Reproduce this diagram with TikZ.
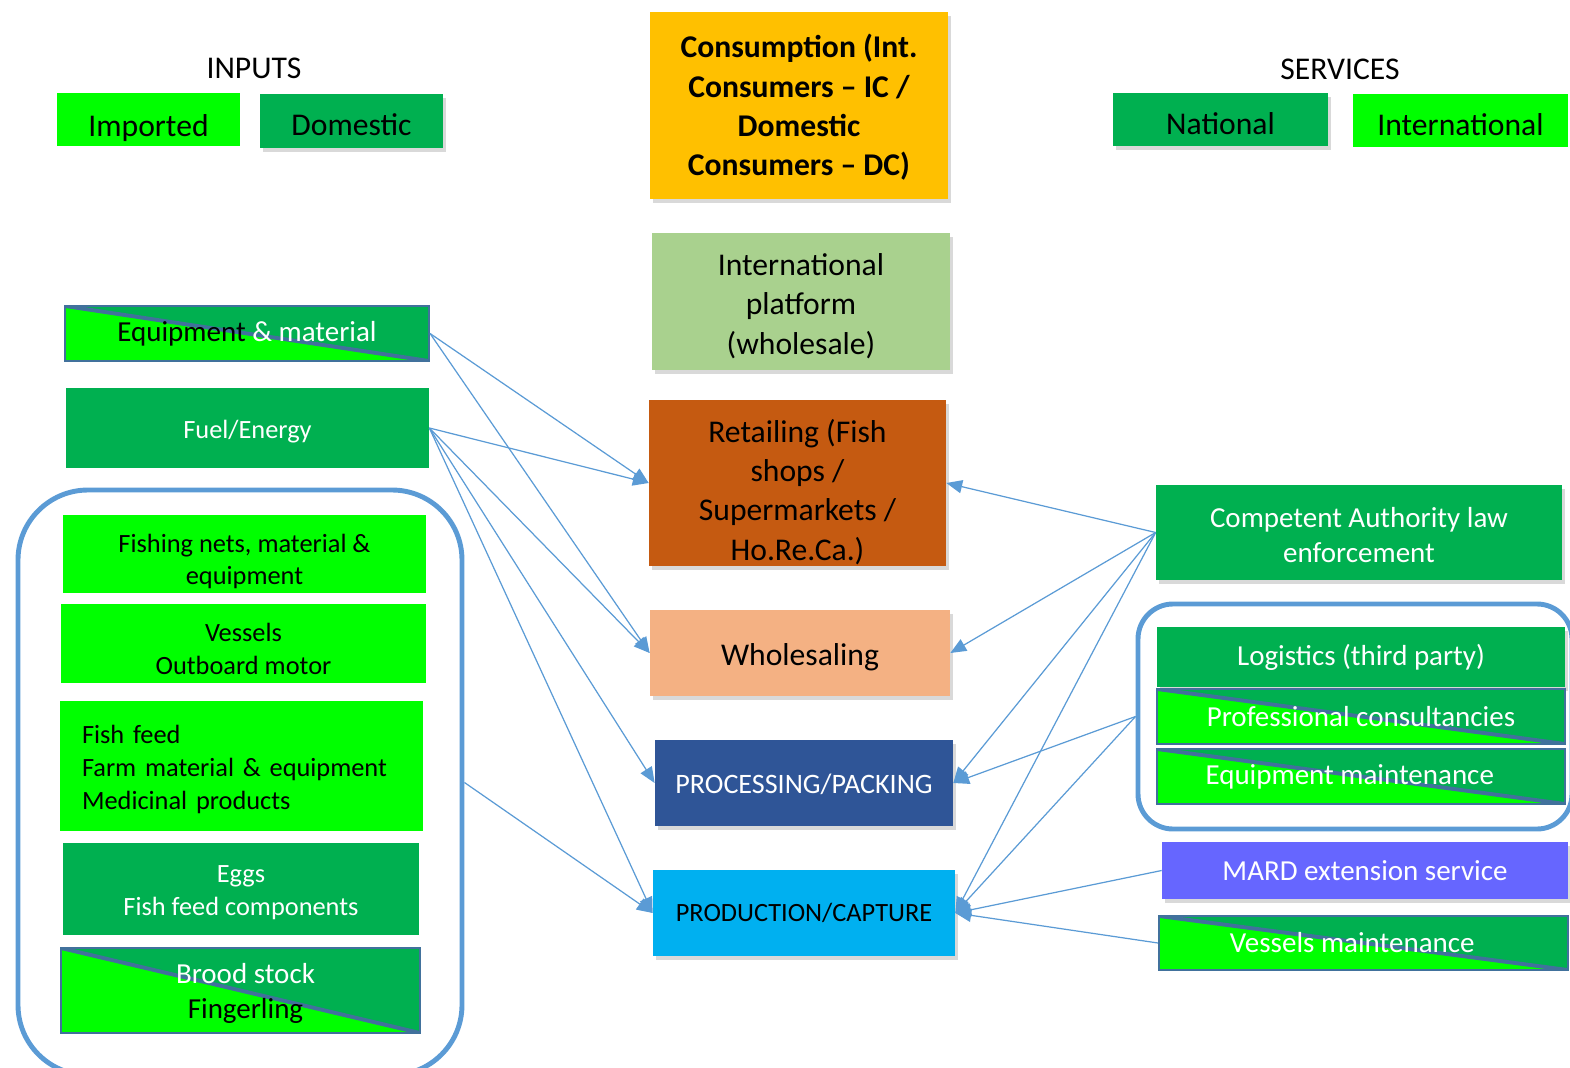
\documentclass[tikz,border=0pt]{standalone}
\usepackage{fontspec}
\setmainfont{Carlito}
\usepackage{tikz}
\usetikzlibrary{arrows.meta,shadows,positioning}
\usepackage{xcolor}
\definecolor{InGreen}{RGB}{0,255,0}
\definecolor{DomGreen}{RGB}{0,176,80}
\definecolor{ConsAmber}{RGB}{255,192,0}
\definecolor{PlatGreen}{RGB}{169,209,142}
\definecolor{RetailRust}{RGB}{197,90,17}
\definecolor{WholePeach}{RGB}{244,177,131}
\definecolor{ProcNavy}{RGB}{47,85,151}
\definecolor{ProdCyan}{RGB}{0,176,240}
\definecolor{MardBlue}{RGB}{102,102,255}
\definecolor{LinkBlue}{RGB}{91,155,213}
\definecolor{EdgeBlue}{RGB}{65,113,156}
\newcommand{\fsL}{\fontsize{18}{22.3}\selectfont}
\newcommand{\fsM}{\fontsize{16.5}{20}\selectfont}
\newcommand{\fsS}{\fontsize{15}{18.6}\selectfont}

\begin{document}
\begin{tikzpicture}[
  box/.style 2 args={inner sep=0pt,minimum width=#1,text width=#1,align=flush center,minimum height=#2},
  sink/.style={execute at begin node={\rule{0pt}{\dimexpr\fontcharht\font`(+#1*2\relax}}},
  shade/.style={drop shadow={shadow xshift=1.5pt,shadow yshift=-2pt,opacity=0.3}},
  splitbox/.style={fill=DomGreen,draw=EdgeBlue,line width=1.2pt,text=white,
    path picture={
      \fill[InGreen] (path picture bounding box.north west) -- (path picture bounding box.south east)
        -- (path picture bounding box.south west) -- cycle;
      \draw[EdgeBlue,line width=2.2pt] (path picture bounding box.north west) -- (path picture bounding box.south east);}},
  frame/.style={draw=LinkBlue,line width=2.8pt},
  link/.style={-{Triangle[length=9pt,width=7.5pt]},LinkBlue,line width=0.7pt},
]
\useasboundingbox (0,0) rectangle (31.4,-21.36);

% legends
\node[font=\fsL] (inputs) at (5.08,-1.36) {INPUTS};
\node[box={3.66cm}{1.06cm},sink=4.5pt,fill=InGreen,font=\fsL] (imported) at (2.97,-2.39) {Imported};
\node[box={3.66cm}{1.08cm},sink=1.7pt,shade,fill=DomGreen,font=\fsL] (domestic) at (7.03,-2.42) {Domestic};
\node[font=\fsL] (services) at (26.8,-1.38) {SERVICES};
\node[box={4.30cm}{1.06cm},sink=2.3pt,shade,fill=DomGreen,font=\fsL] (national) at (24.41,-2.39) {National};
\node[box={4.30cm}{1.06cm},sink=2.3pt,fill=InGreen,font=\fsL] (intl) at (29.21,-2.41) {International};

% chain
\node[box={5.96cm}{3.74cm},sink=1.1pt,shade,fill=ConsAmber,font=\fsL\bfseries] (consum) at (15.98,-2.11)
  {Consumption (Int.\\Consumers -- IC /\\Domestic\\Consumers -- DC)};
\node[box={5.96cm}{2.74cm},sink=2.3pt,shade,fill=PlatGreen,font=\fsL] (platform) at (16.02,-6.03)
  {International\\platform\\(wholesale)};
\node[box={5.94cm}{3.32cm},sink=5.1pt,shade,fill=RetailRust,font=\fsL] (retail) at (15.95,-9.66)
  {Retailing (Fish\\shops /\\Supermarkets /\\Ho.Re.Ca.)};
\node[box={6.00cm}{1.72cm},sink=2.3pt,shade,fill=WholePeach,font=\fsL] (whole) at (16.00,-13.06) {Wholesaling};
\node[box={5.96cm}{1.72cm},sink=0.7pt,shade,fill=ProcNavy,text=white,font=\fontsize{16}{19}\selectfont] (proc) at (16.08,-15.66)
  {PROCESSING/PACKING};
\node[box={6.04cm}{1.72cm},shade,fill=ProdCyan,font=\fsS] (prod) at (16.08,-18.26) {PRODUCTION/CAPTURE};

% inputs
\node[box={7.28cm}{1.10cm},splitbox,font=\fsM] (equip) at (4.94,-6.67)
  {\textcolor{black}{Equipment} \& material};
\node[box={7.26cm}{1.60cm},sink=1.7pt,fill=DomGreen,text=white,font=\fsS] (fuel) at (4.95,-8.56) {Fuel/Energy};
\node[box={8.88cm}{11.70cm},frame,rounded corners=1.4cm] (inbox) at (4.80,-15.65) {};
\node[box={7.26cm}{1.56cm},sink=4pt,fill=InGreen,font=\fsS] (nets) at (4.89,-11.08)
  {Fishing nets, material \&\\equipment};
\node[box={7.30cm}{1.58cm},sink=2.8pt,fill=InGreen,font=\fsS] (vessels) at (4.87,-12.87)
  {Vessels\\Outboard motor};
\node[box={7.26cm}{2.60cm},sink=1.7pt,fill=InGreen,text width=6.38cm,align=left,font=\fsS] (feed) at (4.83,-15.32)
  {Fish feed\\Farm material \& equipment\\Medicinal products};
\node[box={7.12cm}{1.84cm},sink=1.3pt,fill=DomGreen,text=white,font=\fsS] (eggs) at (4.82,-17.78)
  {Eggs\\Fish feed components};
\node[box={7.18cm}{1.70cm},sink=1.4pt,splitbox,font=\fsM] (brood) at (4.81,-19.81)
  {\hspace*{0.2cm}Brood stock\\\hspace*{0.2cm}\textcolor{black}{Fingerling}};

% services
\node[box={8.12cm}{1.90cm},sink=1.1pt,shade,fill=DomGreen,text=white,font=\fsM] (authority) at (27.18,-10.65)
  {Competent Authority law\\enforcement};
\node[box={8.68cm}{4.50cm},frame,rounded corners=0.7cm] (svbox) at (27.10,-14.33) {};
\node[box={8.16cm}{1.20cm},shade,fill=DomGreen,text=white,font=\fsM] (logist) at (27.22,-13.14)
  {Logistics (third party)};
\node[box={8.16cm}{1.10cm},splitbox,font=\fsM] (consult) at (27.22,-14.33) {Professional consultancies};
\node[box={8.16cm}{1.10cm},splitbox,font=\fsM] (eqmaint) at (27.22,-15.53) {Equipment maintenance\hspace*{0.45cm}};
\node[box={8.12cm}{1.14cm},shade,fill=MardBlue,text=white,font=\fsM] (mard) at (27.30,-17.41)
  {MARD extension service};
\node[box={8.18cm}{1.08cm},splitbox,font=\fsM] (vsmaint) at (27.27,-18.86) {Vessels maintenance\hspace*{0.45cm}};

\draw[link] (equip.east) -- (retail.west);
\draw[link] (equip.east) -- (whole.west);
\draw[link] (fuel.east) -- (retail.west);
\draw[link] (fuel.east) -- (whole.west);
\draw[link] (fuel.east) -- (proc.west);
\draw[link] (fuel.east) -- (prod.west);
\draw[link] (inbox.east) -- (prod.west);
\draw[link] (authority.west) -- (retail.east);
\draw[link] (authority.west) -- (whole.east);
\draw[link] (authority.west) -- (proc.east);
\draw[link] (authority.west) -- (prod.east);
\draw[link] (svbox.west) -- (proc.east);
\draw[link] (svbox.west) -- (prod.east);
\draw[link] (mard.west) -- (prod.east);
\draw[link] (vsmaint.west) -- (prod.east);
\end{tikzpicture}
\end{document}
